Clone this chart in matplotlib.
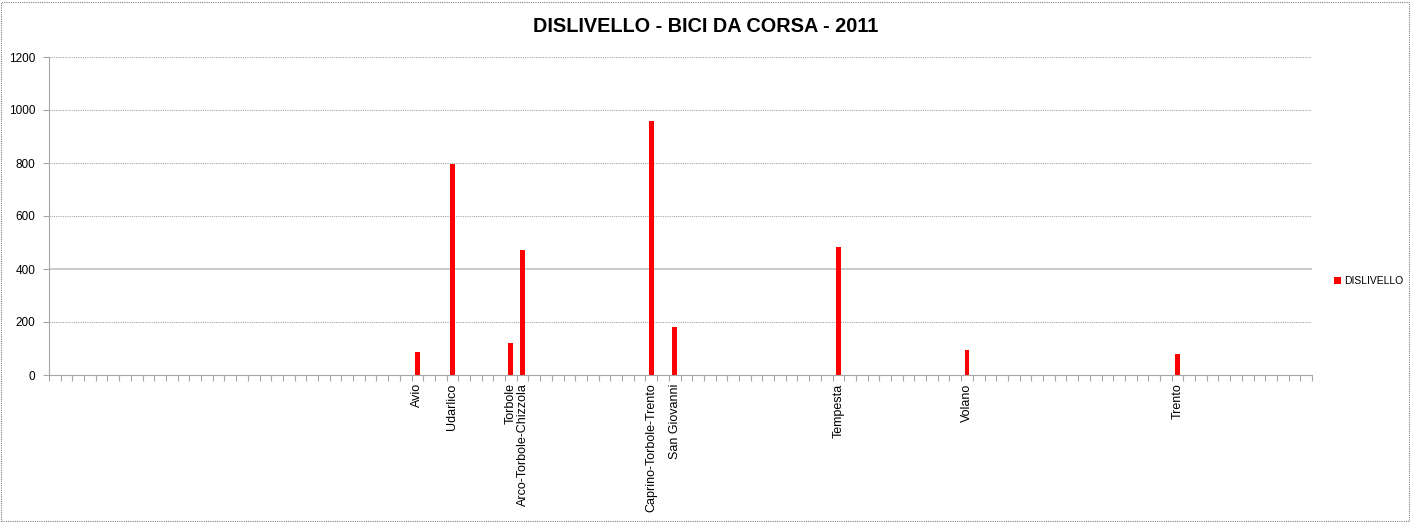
import matplotlib
matplotlib.use("Agg")
import matplotlib.pyplot as plt
from matplotlib.patches import Rectangle

# chart data
n_slots = 108
names = ["Avio", "Udarlico", "Torbole", "Arco-Torbole-Chizzola",
         "Caprino-Torbole-Trento", "San Giovanni", "Tempesta", "Volano", "Trento"]
slots = [31, 34, 39, 40, 51, 53, 67, 78, 96]
dislivello = [88, 795, 122, 470, 960, 182, 483, 94, 79]
y_ticks = [0, 200, 400, 600, 800, 1000, 1200]

labels = [""] * n_slots
for s, n in zip(slots, names):
    labels[s] = n

plt.rcParams['font.family'] = ['Liberation Sans', 'DejaVu Sans']

fig = plt.figure(figsize=(14.12, 5.22), dpi=100)
ax = fig.add_axes([49/1412, 147/522, 1263/1412, 318/522])

grid_col = '#a6a6a6'
for t in y_ticks[1:]:
    if t == 400:
        ax.axhline(t, color='#c0c0c0', lw=1.2, ls='-', zorder=0)
    else:
        ax.axhline(t, color=grid_col, lw=0.8, ls=(0, (1, 1)), zorder=0)

ax.bar(slots, dislivello, width=0.42, color='#ff0000', label='DISLIVELLO', zorder=2)

ax.set_xlim(-0.5, n_slots - 0.5)
ax.set_ylim(0, 1200)
ax.set_yticks(y_ticks)
ax.set_yticklabels([str(t) for t in y_ticks], fontsize=8.5)
ax.tick_params(axis='y', length=4, color=grid_col, pad=6)

ax.set_xticks(range(n_slots))
ax.set_xticklabels(labels, rotation=90, fontsize=9, va='top', ha='center')
ax.set_xticks([i - 0.5 for i in range(n_slots + 1)], minor=True)
ax.tick_params(axis='x', which='major', length=0, pad=6)
ax.tick_params(axis='x', which='minor', length=4, color=grid_col, width=0.8)

for side in ['top', 'right']:
    ax.spines[side].set_visible(False)
for side in ['left', 'bottom']:
    ax.spines[side].set_color(grid_col)
    ax.spines[side].set_linestyle((0, (1, 1)))
    ax.spines[side].set_linewidth(0.8)

fig.suptitle("DISLIVELLO - BICI DA CORSA - 2011", x=706/1412, y=1 - 27/522,
             va='center', fontsize=14.3, fontweight='bold')

fig.legend(loc='center left', bbox_to_anchor=(1325/1412, 1 - 281/522), frameon=False,
           fontsize=7.5, handlelength=0.6, handleheight=0.6, handletextpad=0.3)

# dotted outline round the chart area
fig.patches.append(Rectangle((0.001, 0.002), 0.997, 0.995, transform=fig.transFigure,
                             fill=False, ec='#808080', lw=0.8, ls=(0, (1, 1))))

fig.savefig("out.png", dpi=100)
